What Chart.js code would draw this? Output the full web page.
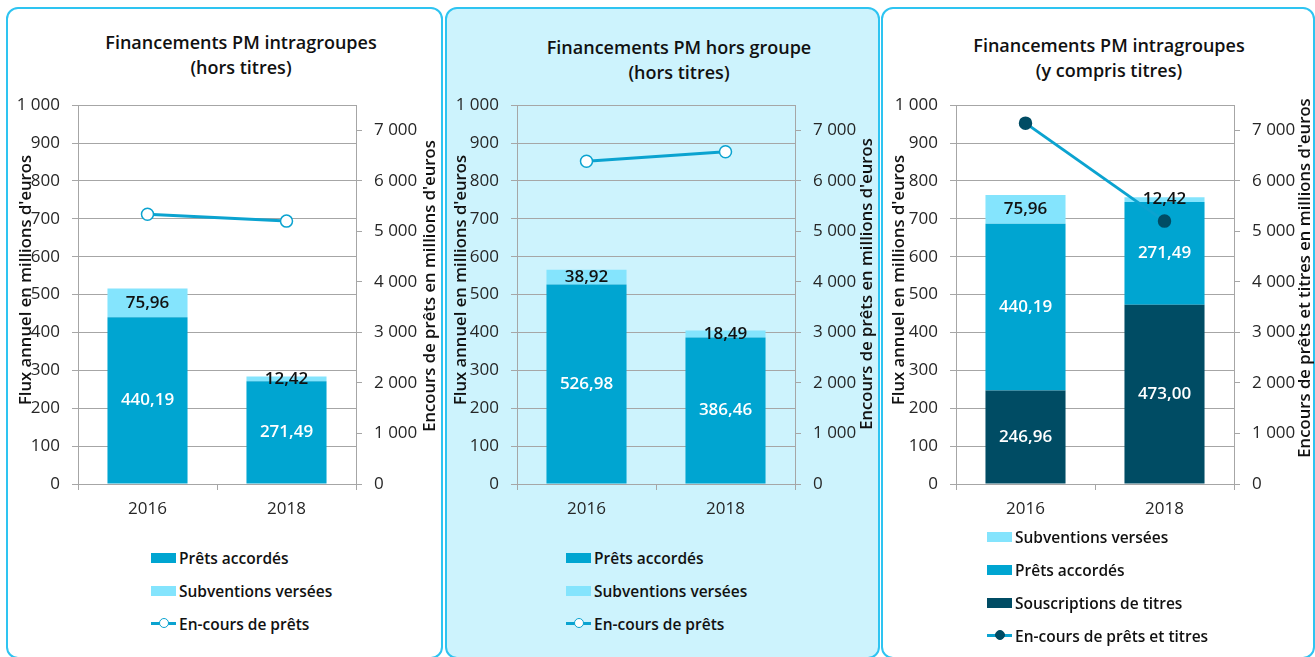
<!DOCTYPE html>
<html lang="fr">
<head>
<meta charset="utf-8">
<script src="https://cdn.jsdelivr.net/npm/chart.js@4.4.0/dist/chart.umd.min.js"></script>
<style>
  body { margin: 0; width: 1315px; height: 657px; background: #fff; font-family: 'Open Sans', sans-serif; overflow: hidden; position: relative; color: #111; }
  .panel { position: absolute; top: 7px; height: 652px; border: 2px solid #2ec4f1; border-radius: 12px; box-sizing: border-box; }
  canvas { position: absolute; }
  .title { position: absolute; width: 400px; margin-left: -200px; text-align: center; font-weight: 600; font-size: 18px; line-height: 25px; }
  .legend { position: absolute; }
  .legend .item { height: 33px; display: flex; align-items: center; font-weight: 600; font-size: 15.5px; white-space: nowrap; }
  .legend .box { width: 25px; height: 10px; margin-right: 3px; }
  .legend .ln { position: relative; width: 25px; height: 3px; margin-right: 3px; }
  .legend .ln span { position: absolute; left: 8px; top: -4px; width: 8px; height: 8px; border-radius: 50%; border: 1.5px solid; box-sizing: content-box; }
</style>
</head>
<body>

<div class="panel" style="left:6px;width:437px"></div>
<div class="panel" style="left:445px;width:435px;background:#cdf3fd"></div>
<div class="panel" style="left:881px;width:434px"></div>

<div class="title" style="left:241px;top:30px">Financements PM intragroupes<br>(hors titres)</div>
<div class="title" style="left:679px;top:35px">Financements PM hors groupe<br>(hors titres)</div>
<div class="title" style="left:1109px;top:33px">Financements PM intragroupes<br>(y compris titres)</div>

<canvas id="c1" width="437" height="447" style="left:6px;top:83px"></canvas>
<canvas id="c2" width="435" height="447" style="left:445px;top:83px"></canvas>
<canvas id="c3" width="434" height="447" style="left:881px;top:83px"></canvas>

<div class="legend" id="lg1" style="left:151px;top:541px"></div>
<div class="legend" id="lg2" style="left:566px;top:541px"></div>
<div class="legend" id="lg3" style="left:987px;top:520px"></div>

<script>
// ----- DONNÉES -----
const years = ['2016', '2018'];

// Financements intragroupes (hors titres)
const pretsIntra = [440.19, 271.49];
const subvIntra = [75.96, 12.42];
const encoursIntra = [5340, 5205];

// Financements hors groupe (hors titres)
const pretsHors = [526.98, 386.46];
const subvHors = [38.92, 18.49];
const encoursHors = [6390, 6580];

// Financements intragroupes (y compris titres)
const titresIntra = [246.96, 473.00];
const encoursTitres = [7145, 5205];

// Échelles
const fluxMax = 1000, fluxStep = 100;
const encoursMax = 7500;
const encoursTicks = [0, 1000, 2000, 3000, 4000, 5000, 6000, 7000];

// ----- COULEURS -----
const cPrets = '#00a5d1';
const cSubv = '#84e4fd';
const cTitres = '#004c64';
const cLine = '#0ba3d0';
const gridColor = '#a6a6a6';
const textColor = '#262626';

function fmtThousands(v) {
    return String(v).replace(/\B(?=(\d{3})+(?!\d))/g, ' ');
}
function fmtValue(v) {
    return v.toFixed(2).replace('.', ',');
}

// Étiquettes de valeurs centrées dans les segments
const barLabels = {
    id: 'barLabels',
    afterDatasetsDraw(chart) {
        const ctx = chart.ctx;
        ctx.save();
        ctx.font = '600 17px "Open Sans"';
        ctx.textAlign = 'center';
        ctx.textBaseline = 'middle';
        chart.data.datasets.forEach((ds, i) => {
            if (ds.type === 'line') return;
            chart.getDatasetMeta(i).data.forEach((el, j) => {
                ctx.fillStyle = ds.labelColor;
                ctx.fillText(fmtValue(ds.data[j]), el.x, (el.y + el.base) / 2);
            });
        });
        ctx.restore();
    }
};

// Titres d'axes (les deux lus de bas en haut)
const axisTitles = {
    id: 'axisTitles',
    afterDraw(chart, args, opts) {
        const ctx = chart.ctx;
        ctx.save();
        ctx.font = '600 16.7px "Open Sans"';
        ctx.fillStyle = '#111';
        ctx.textAlign = 'center';
        ctx.textBaseline = 'middle';
        opts.items.forEach(t => {
            ctx.save();
            ctx.translate(t.x, t.y);
            ctx.rotate(-Math.PI / 2);
            ctx.fillText(t.text, 0, 0);
            ctx.restore();
        });
        ctx.restore();
    }
};

function createChart(id, bars, line, geo) {
    const datasets = bars.map(b => ({
        type: 'bar',
        label: b.label,
        data: b.data,
        backgroundColor: b.color,
        labelColor: b.labelColor,
        yAxisID: 'y',
        categoryPercentage: 0.576,
        barPercentage: 1,
        order: 2
    }));
    datasets.push({
        type: 'line',
        label: line.label,
        data: line.data,
        yAxisID: 'y1',
        borderColor: cLine,
        borderWidth: 3,
        pointRadius: 6,
        pointHoverRadius: 6,
        pointBackgroundColor: line.marker,
        pointBorderColor: line.markerBorder,
        pointBorderWidth: 1.5,
        order: 0
    });

    return new Chart(document.getElementById(id), {
        data: { labels: years, datasets: datasets },
        options: {
            responsive: false,
            animation: false,
            devicePixelRatio: 1,
            layout: { padding: 0 },
            plugins: {
                legend: { display: false },
                tooltip: { enabled: false },
                axisTitles: { items: geo.titles }
            },
            scales: {
                x: {
                    stacked: true,
                    afterFit: s => { s.height = 46; },
                    grid: { drawOnChartArea: false, drawTicks: true, tickLength: 6, color: gridColor, offset: true },
                    border: { color: gridColor },
                    ticks: { color: textColor, font: { family: 'Open Sans', size: 17 }, padding: 9 }
                },
                y: {
                    position: 'left',
                    stacked: true,
                    min: 0,
                    max: fluxMax,
                    afterFit: s => { s.width = geo.left; },
                    grid: { color: gridColor, tickLength: 6 },
                    border: { color: gridColor },
                    ticks: {
                        stepSize: fluxStep,
                        color: textColor,
                        font: { family: 'Open Sans', size: 17 },
                        padding: 12,
                        callback: v => fmtThousands(v)
                    }
                },
                y1: {
                    position: 'right',
                    min: 0,
                    max: encoursMax,
                    afterFit: s => { s.width = geo.right; },
                    afterBuildTicks: s => { s.ticks = encoursTicks.map(v => ({ value: v })); },
                    grid: { drawOnChartArea: false, color: gridColor, tickLength: 6 },
                    border: { color: gridColor },
                    ticks: {
                        color: textColor,
                        font: { family: 'Open Sans', size: 17 },
                        padding: 12,
                        callback: v => fmtThousands(v)
                    }
                }
            }
        },
        plugins: [barLabels, axisTitles]
    });
}

// Légende HTML verticale
function buildLegend(id, items) {
    const el = document.getElementById(id);
    items.forEach(it => {
        const row = document.createElement('div');
        row.className = 'item';
        if (it.line) {
            row.innerHTML = `<div class="ln" style="background:${cLine}"><span style="background:${it.marker};border-color:${it.markerBorder}"></span></div>${it.label}`;
        } else {
            row.innerHTML = `<div class="box" style="background:${it.color}"></div>${it.label}`;
        }
        el.appendChild(row);
    });
}

const fluxTitle = "Flux annuel en millions d'euros";

// positions des titres d'axes en coordonnées du canvas (top = 83)
createChart('c1',
    [
        { label: 'Prêts accordés', data: pretsIntra, color: cPrets, labelColor: '#fff' },
        { label: 'Subventions versées', data: subvIntra, color: cSubv, labelColor: '#111' }
    ],
    { label: 'En-cours de prêts', data: encoursIntra, marker: '#fff', markerBorder: cLine },
    { left: 72, right: 87, titles: [
        { text: fluxTitle, x: 20, y: 197 },
        { text: "Encours de prêts en millions d'euros", x: 424, y: 203 }
    ] }
);

createChart('c2',
    [
        { label: 'Prêts accordés', data: pretsHors, color: cPrets, labelColor: '#fff' },
        { label: 'Subventions versées', data: subvHors, color: cSubv, labelColor: '#111' }
    ],
    { label: 'En-cours de prêts', data: encoursHors, marker: '#fff', markerBorder: cLine },
    { left: 72, right: 85, titles: [
        { text: fluxTitle, x: 16, y: 197 },
        { text: "Encours de prêts en millions d'euros", x: 422, y: 201 }
    ] }
);

createChart('c3',
    [
        { label: 'Souscriptions de titres', data: titresIntra, color: cTitres, labelColor: '#fff' },
        { label: 'Prêts accordés', data: pretsIntra, color: cPrets, labelColor: '#fff' },
        { label: 'Subventions versées', data: subvIntra, color: cSubv, labelColor: '#111' }
    ],
    { label: 'En-cours de prêts et titres', data: encoursTitres, marker: cTitres, markerBorder: cTitres },
    { left: 75, right: 81, titles: [
        { text: fluxTitle, x: 18, y: 197 },
        { text: "Encours de prêts et titres en millions d'euros", x: 424, y: 195 }
    ] }
);

buildLegend('lg1', [
    { label: 'Prêts accordés', color: cPrets },
    { label: 'Subventions versées', color: cSubv },
    { label: 'En-cours de prêts', line: true, marker: '#fff', markerBorder: cLine }
]);
buildLegend('lg2', [
    { label: 'Prêts accordés', color: cPrets },
    { label: 'Subventions versées', color: cSubv },
    { label: 'En-cours de prêts', line: true, marker: '#fff', markerBorder: cLine }
]);
buildLegend('lg3', [
    { label: 'Subventions versées', color: cSubv },
    { label: 'Prêts accordés', color: cPrets },
    { label: 'Souscriptions de titres', color: cTitres },
    { label: 'En-cours de prêts et titres', line: true, marker: cTitres, markerBorder: cTitres }
]);
</script>
</body>
</html>
